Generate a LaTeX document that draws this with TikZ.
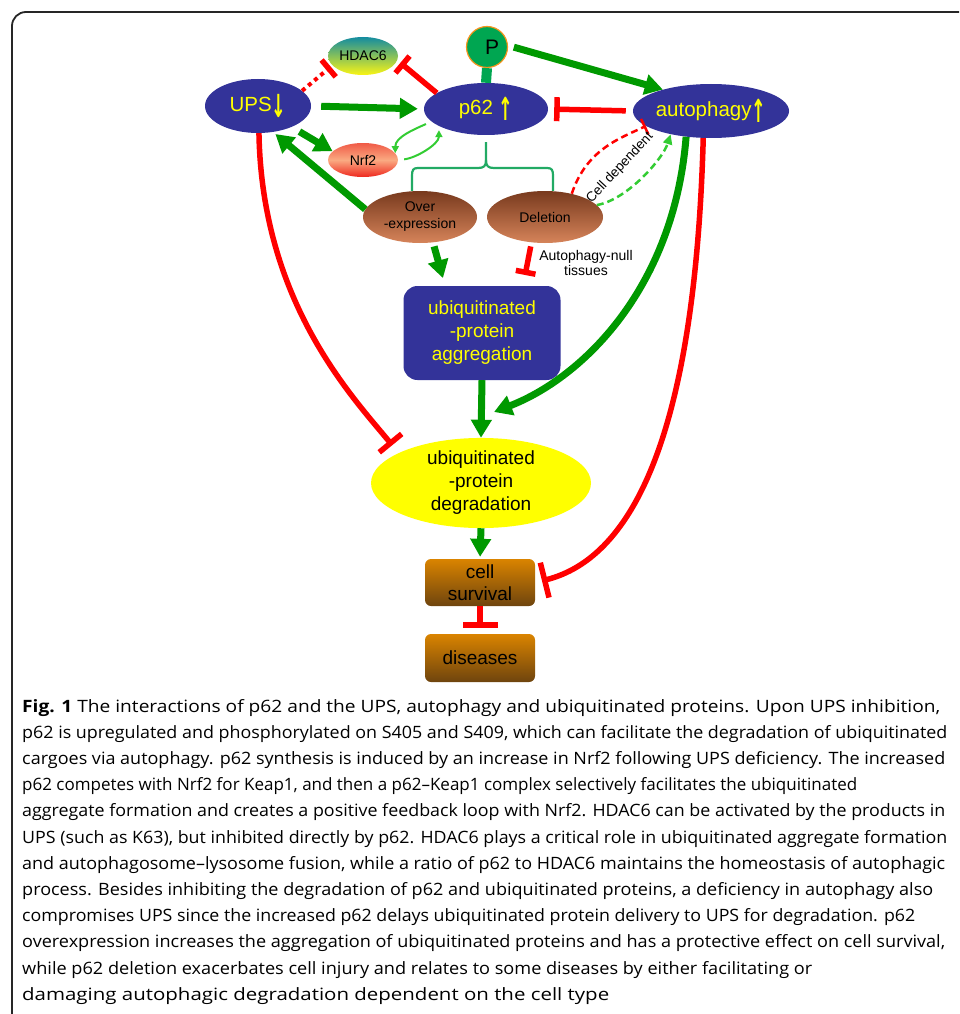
\documentclass[tikz,border=0pt]{standalone}
\usepackage{fontspec}
\usepackage{graphicx}
\setmainfont{Liberation Sans}
\newfontfamily\capfont{Open Sans}
\newfontfamily\arrfont{DejaVu Sans}
\usetikzlibrary{arrows.meta,shapes.geometric}
\definecolor{blueC}{RGB}{51,51,153}
\definecolor{yelC}{RGB}{255,255,0}
\definecolor{grC}{RGB}{0,153,0}
\definecolor{ltgrC}{RGB}{51,204,51}
\definecolor{brkC}{RGB}{34,170,100}
\definecolor{redC}{RGB}{255,0,0}
\definecolor{pfill}{RGB}{0,166,81}
\definecolor{porange}{RGB}{247,148,29}
\definecolor{hdTop}{RGB}{20,140,160}
\definecolor{hdBot}{RGB}{250,245,20}
\definecolor{nrTop}{RGB}{240,90,70}
\definecolor{nrMid}{RGB}{250,170,130}
\definecolor{nrBot}{RGB}{238,40,30}
\definecolor{brTop}{RGB}{120,58,30}
\definecolor{brBot}{RGB}{214,132,90}
\definecolor{bxTop}{RGB}{218,132,0}
\definecolor{bxBot}{RGB}{110,68,14}
\newcommand\uparr{\raisebox{-6pt}{\scalebox{0.85}[1.55]{\arrfont\bfseries ↑}}}
\newcommand\dnarr{\raisebox{-6pt}{\scalebox{0.85}[1.55]{\arrfont\bfseries ↓}}}
\newcommand\capl[3]{\node[anchor=base west,inner sep=0pt] (cl#1) at (22,{712+(#1-1)*26.2}) {\resizebox{#2pt}{\height}{\capfont\fontsize{17}{20}\selectfont #3}};}
\begin{document}
\begin{tikzpicture}[x=1pt,y=-1pt,
  bell/.style={ellipse, fill=blueC, text=yelC, inner sep=0pt, font=\fontsize{20.5}{24}\selectfont},
  brn/.style={ellipse, top color=brTop, bottom color=brBot, inner sep=0pt, align=center, font=\fontsize{14}{17}\selectfont},
  obox/.style={rectangle, rounded corners=6pt, top color=bxTop, bottom color=bxBot, inner sep=0pt, align=center, minimum width=110pt, font=\fontsize{19}{22}\selectfont},
  garr/.style={draw=grC, line width=7pt, -{Triangle[length=18pt,width=20pt]}},
  tg/.style={draw=ltgrC, line width=2pt, -{Triangle[length=7pt,width=7pt]}},
  gdash/.style={draw=ltgrC, line width=2.5pt, dash pattern=on 7pt off 4pt, -{Triangle[length=10pt,width=9pt]}},
  rinh/.style={draw=redC, line width=5.5pt, -{Bar[width=#1]}},
  rinh/.default=24pt,
  rdash/.style={draw=redC, line width=2.5pt, dash pattern=on 7pt off 4pt, -{Bar[width=17pt]}},
  rdot/.style={draw=redC, line width=4pt, dash pattern=on 4pt off 4pt, -{Bar[width=22pt,line width=5.5pt]}},
  bracket/.style={draw=brkC, line width=2.2pt}
]
\useasboundingbox (0,0) rectangle (959,1014);
\clip (0,0) rectangle (959,1014);
\draw[line width=1.8pt, draw=black!85, rounded corners=14pt] (12,1060) -- (12,12) -- (1010,12);

% nodes
\node[bell, minimum width=106pt, minimum height=54pt] (ups) at (258,106) {UPS\dnarr};
\node[ellipse, inner sep=0pt, minimum width=70pt, minimum height=38pt, top color=hdTop, bottom color=hdBot, font=\fontsize{14}{16}\selectfont] (hdac) at (363,56) {HDAC6};
\node[ellipse, inner sep=0pt, minimum width=70pt, minimum height=34pt, top color=nrTop, bottom color=nrBot, middle color=nrMid, font=\fontsize{14}{16}\selectfont] (nrf2) at (363,160) {Nrf2};
\node[bell, minimum width=124pt, minimum height=52pt] (p62) at (486,109) {p62 \uparr};
\node[circle, fill=pfill, draw=porange, line width=1.2pt, minimum size=41pt, inner sep=0pt, font=\fontsize{21}{24}\selectfont] (pc) at (487,47) {\hspace*{10pt}P};
\node[bell, minimum width=134pt, minimum height=54pt] (auto) at (711,111) {autophagy\uparr};
\node[brn, minimum width=114pt, minimum height=52pt] (over) at (420,217) {Over\\-expression};
\node[brn, minimum width=116pt, minimum height=52pt] (del) at (545,217) {Deletion};
\node[rectangle, rounded corners=14pt, fill=blueC, text=yelC, inner sep=0pt, minimum width=157pt, minimum height=94pt, align=center, font=\fontsize{19}{23}\selectfont] (agg) at (482,333) {ubiquitinated\\-protein\\aggregation};
\node[ellipse, fill=yelC, inner sep=0pt, minimum width=220pt, minimum height=84pt, align=center, font=\fontsize{19}{23}\selectfont] (deg) at (481,483) {ubiquitinated\\-protein\\degradation};
\node[obox, minimum height=47pt] (cell) at (480,582.5) {cell\\survival};
\node[obox, minimum height=48pt] (dis) at (480,658) {diseases};
\node[align=center, inner sep=0pt, font=\fontsize{14}{15.5}\selectfont] (null) at (586,263) {Autophagy-null\\tissues};
\coordinate (join) at (494,412);

% bracket
\draw[bracket] ([yshift=-7pt]p62.south) -- (486,160) .. controls (486,166) and (484,168) .. (478,168) -- (418,168) .. controls (413,168) and (412,170) .. (412,176) -- ([xshift=-8pt]over.north);
\draw[bracket] (486,160) .. controls (486,166) and (488,168) .. (494,168) -- (547,168) .. controls (552,168) and (553,170) .. (553,176) -- ([xshift=8pt]del.north);

% P stem
\draw[draw=pfill, line width=10pt] (pc.south) -- (p62.north);

% connectors
\draw[garr, shorten <=10pt, shorten >=6pt] (ups.east) -- (p62.west);
\draw[garr, shorten <=9pt] (ups.-32) -- (nrf2.164);
\draw[garr, shorten >=3pt] (over.172) -- (ups.-60);
\draw[rdot, shorten >=2pt] (ups.19) -- (hdac.-163);
\draw[rinh=22pt, shorten >=4pt] (p62.162) -- (hdac.-7);
\draw[tg, shorten <=6pt] (p62.-167) .. controls +(-18,8) and +(0,-16) .. (nrf2.12);
\draw[tg, shorten <=6pt, shorten >=4pt] (nrf2.east) .. controls +(18,-2) and +(0,18) .. (p62.-160);
\draw[garr, shorten <=6pt] (pc.4) -- (auto.156);
\draw[rinh=24pt, shorten <=7pt, shorten >=6pt] (auto.west) -- (p62.east);
\draw[rdash] (del.41) .. controls +(15,-45) and +(-25,12) .. (auto.-167);
\draw[gdash] (del.13) .. controls +(30,-5) and +(-8,25) .. (auto.-150);
\draw[garr, shorten <=4pt, shorten >=8pt] (over.-63) -- (agg.128);
\draw[rinh=20pt, shorten <=4pt, shorten >=11pt] (del.-118) -- (agg.49);
\draw[garr] (agg.south) -- (deg.north);
\draw[garr, shorten >=2pt] (deg.south) -- (cell.north);
\draw[rinh=35pt, shorten >=6pt] (cell.south) -- (dis.north);
\draw[rinh=36pt, shorten >=7pt] (auto.-106) .. controls +(-8,290) and +(100,-25) .. (cell.east);
\draw[garr] (auto.-134) .. controls +(-12,150) and +(90,-35) .. (join);
\draw[rinh=29pt, shorten >=10pt] (ups.-88) .. controls +(3,170) and +(-45,-55) .. (deg.160);

\node[rotate=47, inner sep=0pt, font=\fontsize{13.5}{16}\selectfont] (cdl) at (620,168) {Cell dependent};

% caption
\capl{1}{918}{\textbf{Fig. 1} The interactions of p62 and the UPS, autophagy and ubiquitinated proteins. Upon UPS inhibition,}
\capl{2}{925}{p62 is upregulated and phosphorylated on S405 and S409, which can facilitate the degradation of ubiquitinated}
\capl{3}{923}{cargoes via autophagy. p62 synthesis is induced by an increase in Nrf2 following UPS deficiency. The increased}
\capl{4}{835}{p62 competes with Nrf2 for Keap1, and then a p62–Keap1 complex selectively facilitates the ubiquitinated}
\capl{5}{923}{aggregate formation and creates a positive feedback loop with Nrf2. HDAC6 can be activated by the products in}
\capl{6}{925}{UPS (such as K63), but inhibited directly by p62. HDAC6 plays a critical role in ubiquitinated aggregate formation}
\capl{7}{923}{and autophagosome–lysosome fusion, while a ratio of p62 to HDAC6 maintains the homeostasis of autophagic}
\capl{8}{911}{process. Besides inhibiting the degradation of p62 and ubiquitinated proteins, a deficiency in autophagy also}
\capl{9}{893}{compromises UPS since the increased p62 delays ubiquitinated protein delivery to UPS for degradation. p62}
\capl{10}{923}{overexpression increases the aggregation of ubiquitinated proteins and has a protective effect on cell survival,}
\capl{11}{790}{while p62 deletion exacerbates cell injury and relates to some diseases by either facilitating or}
\capl{12}{587}{damaging autophagic degradation dependent on the cell type}
\end{tikzpicture}
\end{document}
